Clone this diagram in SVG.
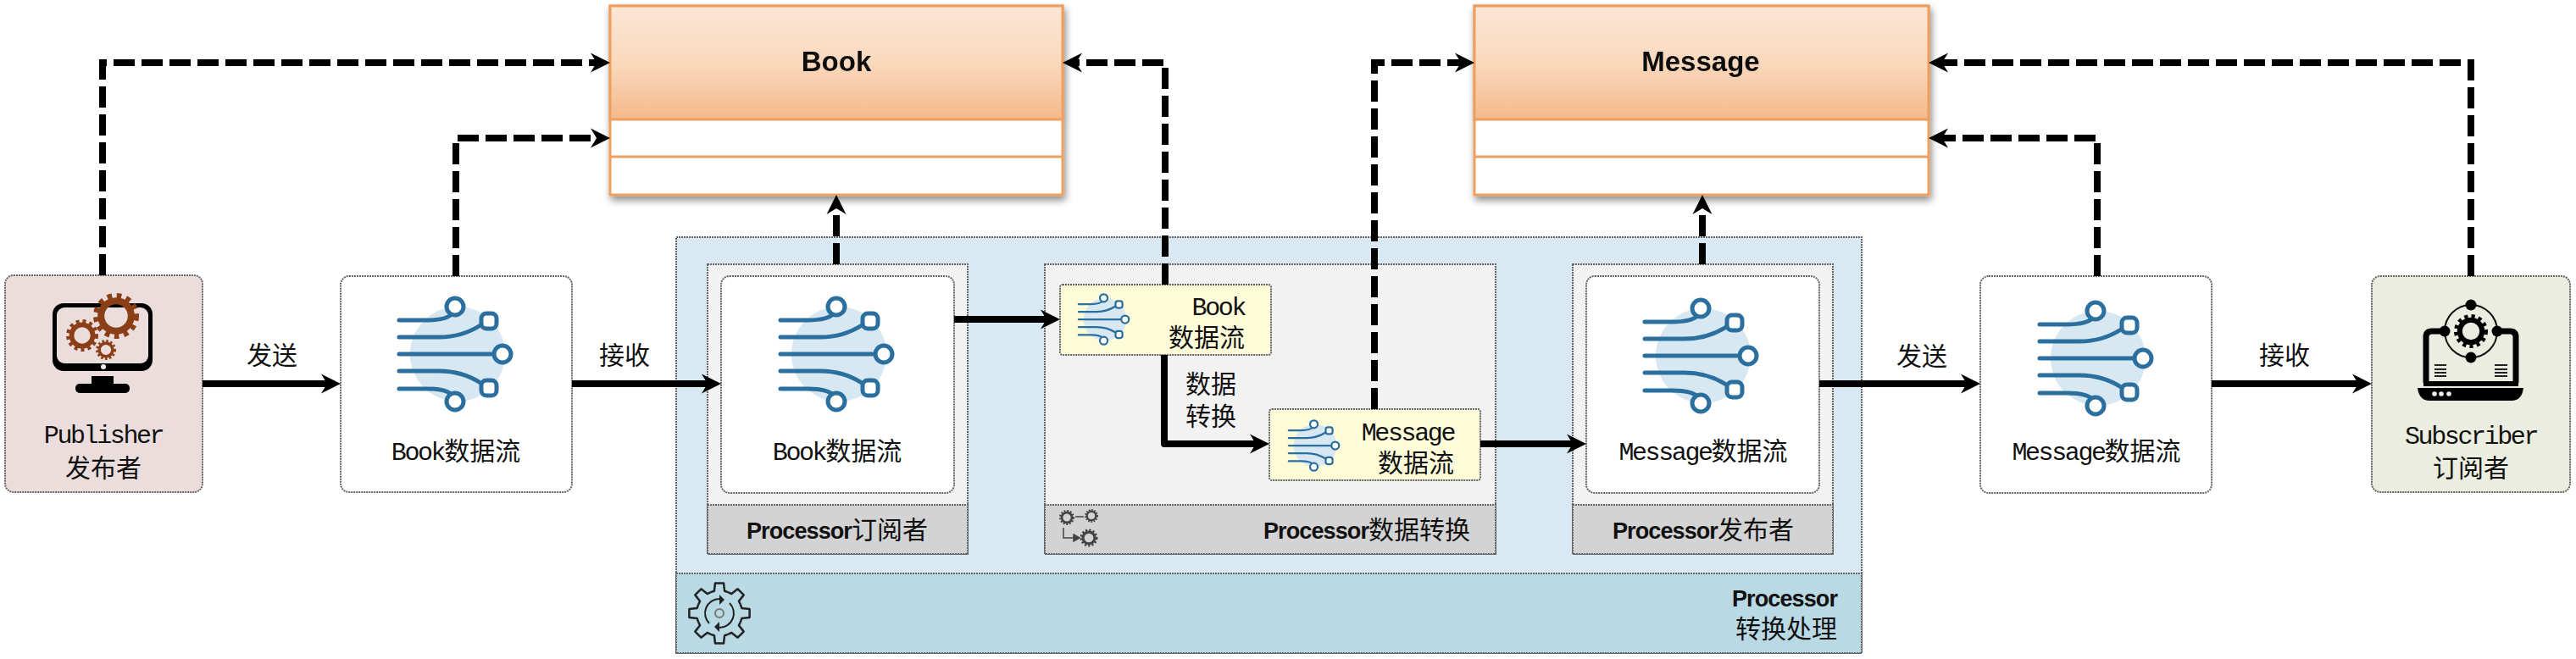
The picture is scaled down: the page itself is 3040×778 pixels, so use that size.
<svg xmlns="http://www.w3.org/2000/svg" width="3040" height="778" viewBox="0 0 3040 778">
<style>
.box{stroke:#666;stroke-width:2;stroke-dasharray:2 1}
.t{font-family:"Noto Sans CJK SC",sans-serif;font-size:30px;fill:#111;text-anchor:middle}
.l{font-family:"Liberation Mono","Noto Sans CJK SC",monospace;font-size:30px;letter-spacing:-2.4px}
.b{font-family:"Liberation Sans","Noto Sans CJK SC",sans-serif;font-weight:700;font-size:27px;letter-spacing:-0.9px}
.e{text-anchor:end}
.solid{fill:none;stroke:#000;stroke-width:8;stroke-linejoin:round;marker-end:url(#arrow)}
.dash{fill:none;stroke:#000;stroke-width:8;stroke-dasharray:25 8;marker-end:url(#arrow)}
.uml{fill:#fff;stroke:#ee9f5e;stroke-width:3}
.sl{fill:none;stroke:#2b6f9e;stroke-width:5;stroke-linecap:round}
.sn{fill:#fff;stroke:#2b6f9e;stroke-width:5}
</style>
<defs>
<linearGradient id="hdr" x1="0" y1="0" x2="0" y2="1"><stop offset="0" stop-color="#fbe6d6"/><stop offset="0.5" stop-color="#f9d9bd"/><stop offset="1" stop-color="#f4b98a"/></linearGradient>
<filter id="sh" x="-5%" y="-5%" width="110%" height="115%"><feDropShadow dx="2" dy="5" stdDeviation="4" flood-color="#000" flood-opacity="0.45"/></filter>
<marker id="arrow" markerUnits="userSpaceOnUse" markerWidth="26" markerHeight="26" refX="13" refY="12" orient="auto" overflow="visible"><path d="M0,0.5 L23,12 L0,23.5 L7,12 Z" fill="#000"/></marker>
<g id="stream">
<circle cx="2" cy="0" r="56" fill="#d8e8f3"/>
<path class="sl" d="M-67,-40 H-35 C-20,-40 -9,-42 -4,-48 M-67,-20 H-20 C0,-20 15,-25 29,-34 M-67,0 H44 M-67,20 H-20 C0,20 15,25 29,34 M-67,41 H-35 C-20,41 -9,43 -4,49"/>
<circle class="sn" cx="-1" cy="-56" r="10"/><rect class="sn" x="30" y="-48" width="18" height="18" rx="6"/><circle class="sn" cx="55" cy="0" r="10"/><rect class="sn" x="30" y="31" width="18" height="18" rx="6"/><circle class="sn" cx="-1" cy="56" r="10"/>
</g>
<g id="gear12">
<circle cx="0" cy="0" r="0.86" fill="none" stroke="currentColor" stroke-width="0.28" pathLength="24" stroke-dasharray="1 1"/>
<circle cx="0" cy="0" r="0.66" fill="none" stroke="currentColor" stroke-width="0.3"/>
</g>
<path id="tooth" fill="none" stroke="#222" stroke-width="2.5" stroke-linejoin="round" d="M-10.3,-24.9 L-6.1,-26.3 L-5,-35.6 L5,-35.6 L6.1,-26.3 L10.3,-24.9"/>
</defs>

<g id="processor">
<rect class="box" x="798" y="280" width="1399" height="491" fill="#d9e9f3"/>
<rect class="box" x="798" y="677" width="1399" height="94" fill="#b9d9e4"/>
<g transform="translate(849,724)">
<use href="#tooth"/><use href="#tooth" transform="rotate(45)"/><use href="#tooth" transform="rotate(90)"/><use href="#tooth" transform="rotate(135)"/><use href="#tooth" transform="rotate(180)"/><use href="#tooth" transform="rotate(225)"/><use href="#tooth" transform="rotate(270)"/><use href="#tooth" transform="rotate(315)"/>
<path d="M0,-17 A17,17 0 0 0 -12,12 M0,17 A17,17 0 0 0 12,-12" fill="none" stroke="#222" stroke-width="2"/>
<path d="M0,-22 L6,-16 L0,-10 Z M0,22 L-6,16 L0,10 Z" fill="#222"/>
<circle r="5" fill="none" stroke="#777" stroke-width="2"/>
</g>
<text class="t b e" x="2168" y="716">Processor</text>
<text class="t e" x="2168" y="753">转换处理</text>
</g>

<g id="processor-subscriber">
<rect class="box" x="835" y="312" width="307" height="342" fill="#f2f2f2"/>
<rect class="box" x="835" y="596" width="307" height="58" fill="#d3d3d3"/>
<text class="t" x="988" y="636"><tspan class="b">Processor</tspan>订阅者</text>
</g>
<g id="processor-transform">
<rect class="box" x="1233" y="312" width="532" height="342" fill="#f2f2f2"/>
<rect class="box" x="1233" y="596" width="532" height="58" fill="#d3d3d3"/>
<text class="t e" x="1735" y="636"><tspan class="b">Processor</tspan>数据转换</text>
<g color="#444" fill="none" stroke="#444" stroke-width="1.5">
<use href="#gear12" transform="translate(1259,611) scale(9)"/>
<use href="#gear12" transform="translate(1288,609) scale(8)"/>
<use href="#gear12" transform="translate(1285,635) scale(10.5)"/>
<path d="M1269,610 H1279 M1255,623 V635 H1268"/>
<path d="M1267,631 L1274,635 L1267,639 Z" fill="#444"/>
</g>
</g>
<g id="processor-publisher">
<rect class="box" x="1856" y="312" width="307" height="342" fill="#f2f2f2"/>
<rect class="box" x="1856" y="596" width="307" height="58" fill="#d3d3d3"/>
<text class="t" x="2010" y="636"><tspan class="b">Processor</tspan>发布者</text>
</g>

<g id="publisher">
<rect class="box" x="6" y="325" width="233" height="256" rx="10" fill="#ecdddd"/>
<rect x="62" y="358" width="118" height="80" rx="13" fill="#000"/>
<rect x="67" y="363" width="108" height="66" rx="9" fill="#ecdddd"/>
<circle cx="122" cy="433" r="3" fill="#eee"/>
<rect x="108" y="444" width="26" height="12" fill="#000"/>
<rect x="89" y="453" width="64" height="11" rx="5" fill="#000"/>
<use href="#gear12" color="#8b3f16" transform="translate(137,373) scale(27)"/>
<use href="#gear12" color="#8b3f16" transform="translate(97,396) scale(19)"/>
<use href="#gear12" color="#8b3f16" transform="translate(125,413) scale(12)"/>
<text class="t l" x="122" y="523">Publisher</text>
<text class="t" x="122" y="563">发布者</text>
</g>

<g id="book-stream">
<rect class="box" x="402" y="326" width="273" height="255" rx="10" fill="#fff"/>
<use href="#stream" transform="translate(538,418)"/>
<text class="t" x="538" y="543"><tspan class="l">Book</tspan>数据流</text>
</g>
<g id="book-stream-in">
<rect class="box" x="851" y="326" width="275" height="256" rx="10" fill="#fff"/>
<use href="#stream" transform="translate(988,418)"/>
<text class="t" x="988" y="543"><tspan class="l">Book</tspan>数据流</text>
</g>
<g id="book-flow">
<rect class="box" x="1251" y="336" width="249" height="83" rx="3" fill="#fdfbd8"/>
<use href="#stream" transform="translate(1303,377) scale(0.45)"/>
<text class="t e l" x="1469" y="372">Book</text>
<text class="t e" x="1469" y="409">数据流</text>
</g>
<g id="message-flow">
<rect class="box" x="1498" y="483" width="249" height="84" rx="3" fill="#fdfbd8"/>
<use href="#stream" transform="translate(1551,526) scale(0.45)"/>
<text class="t e l" x="1716" y="520">Message</text>
<text class="t e" x="1716" y="557">数据流</text>
</g>
<g id="message-stream-in">
<rect class="box" x="1872" y="326" width="275" height="256" rx="10" fill="#fff"/>
<use href="#stream" transform="translate(2008,420)"/>
<text class="t" x="2010" y="543"><tspan class="l">Message</tspan>数据流</text>
</g>
<g id="message-stream">
<rect class="box" x="2337" y="326" width="273" height="256" rx="10" fill="#fff"/>
<use href="#stream" transform="translate(2474,423)"/>
<text class="t" x="2474" y="543"><tspan class="l">Message</tspan>数据流</text>
</g>
<g id="subscriber">
<rect class="box" x="2799" y="326" width="234" height="255" rx="10" fill="#eaeddf"/>
<path d="M2863,452 V398 Q2863,391 2870,391 H2884 M2969,452 V398 Q2969,391 2962,391 H2948" fill="none" stroke="#000" stroke-width="7"/>
<rect x="2860" y="450" width="112" height="6" fill="#000"/>
<path d="M2853,458 H2978 Q2976,473 2964,473 H2867 Q2855,473 2853,458 Z" fill="#000"/>
<circle cx="2873" cy="465" r="2.8" fill="#eee"/><circle cx="2881" cy="465" r="2.8" fill="#eee"/><circle cx="2890" cy="465" r="2.8" fill="#eee"/>
<circle cx="2916" cy="391" r="31" fill="none" stroke="#111" stroke-width="2"/>
<circle cx="2916" cy="360" r="6.5"/><circle cx="2916" cy="422" r="6.5"/><circle cx="2885" cy="391" r="6.5"/><circle cx="2947" cy="391" r="6.5"/>
<use href="#gear12" color="#000" transform="translate(2916,391) scale(20)"/>
<path d="M2873,431 H2887 M2873,436 H2887 M2873,440 H2887 M2873,444 H2887 M2944,431 H2959 M2944,436 H2959 M2944,440 H2959 M2944,444 H2959" stroke="#222" stroke-width="2"/>
<text class="t l" x="2916" y="524">Subscriber</text>
<text class="t" x="2916" y="563">订阅者</text>
</g>

<g id="book-class" filter="url(#sh)">
<rect class="uml" x="720" y="7" width="534" height="223"/>
<rect x="720" y="7" width="534" height="134" fill="url(#hdr)" stroke="#ee9f5e" stroke-width="3"/>
<path d="M720,185 H1254" stroke="#ee9f5e" stroke-width="3"/>
<text class="t b" x="987" y="84" style="font-size:33px;letter-spacing:0">Book</text>
</g>
<g id="message-class" filter="url(#sh)">
<rect class="uml" x="1740" y="7" width="536" height="223"/>
<rect x="1740" y="7" width="536" height="134" fill="url(#hdr)" stroke="#ee9f5e" stroke-width="3"/>
<path d="M1740,185 H2276" stroke="#ee9f5e" stroke-width="3"/>
<text class="t b" x="2007" y="84" style="font-size:33px;letter-spacing:0">Message</text>
</g>

<g id="connectors">
<path class="solid" d="M239,453 H392"/>
<path class="solid" d="M675,453 H841"/>
<path class="solid" d="M1126,377 H1241"/>
<path class="solid" d="M1374,419 V524 H1488"/>
<path class="solid" d="M1747,524 H1862"/>
<path class="solid" d="M2147,453 H2327"/>
<path class="solid" d="M2610,453 H2789"/>
<path class="dash" d="M121,325 V74 H710"/>
<path class="dash" d="M538,326 V163 H710"/>
<path class="dash" d="M987,312 V240"/>
<path class="dash" d="M1375,336 V74 H1264"/>
<path class="dash" d="M1622,483 V74 H1730"/>
<path class="dash" d="M2009,312 V240"/>
<path class="dash" d="M2475,326 V163 H2286"/>
<path class="dash" d="M2916,326 V74 H2286"/>
</g>

<g id="edge-labels">
<text class="t" x="321" y="430">发送</text>
<text class="t" x="737" y="430">接收</text>
<text class="t" x="1429" y="464">数据</text>
<text class="t" x="1429" y="502">转换</text>
<text class="t" x="2268" y="431">发送</text>
<text class="t" x="2696" y="430">接收</text>
</g>
</svg>
